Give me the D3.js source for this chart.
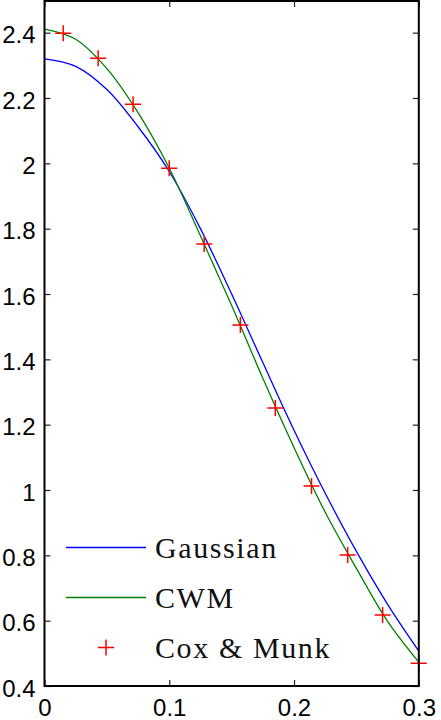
<!DOCTYPE html>
<html>
<head>
<meta charset="utf-8">
<script src="https://cdn.jsdelivr.net/npm/d3@7"></script>
<style>
  body { margin: 0; background: #fff; }
  svg { display: block; }
</style>
</head>
<body>
<svg id="chart"></svg>
<script>
const svgWidth = 441;
const svgHeight = 720;

// slope values
const curveX = [0, 0.025, 0.05, 0.075, 0.1, 0.125, 0.15, 0.175, 0.2, 0.225, 0.25, 0.275, 0.3];
const gaussian = [2.32, 2.297, 2.226, 2.112, 1.975, 1.80, 1.60, 1.39, 1.183, 0.99, 0.812, 0.65, 0.507];
const cwm = [2.411, 2.38, 2.29, 2.155, 1.985, 1.778, 1.565, 1.342, 1.13, 0.932, 0.76, 0.598, 0.473];

const coxMunkX = [0.015, 0.043, 0.071, 0.1, 0.128, 0.157, 0.185, 0.214, 0.243, 0.271, 0.3];
const coxMunkY = [2.398, 2.322, 2.181, 1.985, 1.753, 1.505, 1.251, 1.012, 0.801, 0.617, 0.47];

const xTicks = [0, 0.1, 0.2, 0.3];
const yTicks = [0.4, 0.6, 0.8, 1, 1.2, 1.4, 1.6, 1.8, 2, 2.2, 2.4];

const legendItems = [
  { name: 'Gaussian', color: '#0000ff', type: 'line' },
  { name: 'CWM', color: '#008000', type: 'line' },
  { name: 'Cox & Munk', color: '#ff0000', type: 'plus' },
];

const svg = d3.select('#chart')
  .attr('width', svgWidth)
  .attr('height', svgHeight);

svg.append('rect')
  .attr('width', svgWidth)
  .attr('height', svgHeight)
  .attr('fill', '#fff');

const plotLeft = 44.5;
const plotRight = 418.8;
const plotTop = 1;
const plotBottom = 686;

const x = d3.scaleLinear().domain([0, 0.3]).range([plotLeft, plotRight]);
const y = d3.scaleLinear().domain([0.4, 2.5]).range([plotBottom, 0]);

const fmt = d => String(+d.toFixed(1));
const tickFont = '"Liberation Sans", Arial, sans-serif';

// axes, ticks point inwards
const yAxis = svg.append('g')
  .attr('transform', `translate(${plotLeft},0)`)
  .call(d3.axisLeft(y).tickValues(yTicks).tickFormat(fmt)
    .tickSizeInner(-6).tickSizeOuter(0).tickPadding(9));

const yAxisRight = svg.append('g')
  .attr('transform', `translate(${plotRight},0)`)
  .call(d3.axisRight(y).tickValues(yTicks).tickFormat('')
    .tickSizeInner(-6).tickSizeOuter(0));

const xAxis = svg.append('g')
  .attr('transform', `translate(0,${plotBottom})`)
  .call(d3.axisBottom(x).tickValues(xTicks).tickFormat(fmt)
    .tickSizeInner(-6).tickSizeOuter(0).tickPadding(14));

const xAxisTop = svg.append('g')
  .attr('transform', `translate(0,${plotTop})`)
  .call(d3.axisTop(x).tickValues(xTicks).tickFormat('')
    .tickSizeInner(-6).tickSizeOuter(0));

[yAxis, yAxisRight, xAxis, xAxisTop].forEach(a => {
  a.select('.domain').remove();
  a.selectAll('line').attr('stroke', '#222').attr('stroke-width', 1.2);
  a.selectAll('text')
    .attr('font-family', tickFont)
    .attr('font-size', 24)
    .attr('fill', '#000');
});
yAxis.selectAll('text').attr('dy', '0.42em');
xAxis.selectAll('text').attr('dy', '0.68em');

// curves
svg.append('clipPath').attr('id', 'plot')
  .append('rect')
  .attr('x', plotLeft)
  .attr('y', plotTop)
  .attr('width', plotRight - plotLeft)
  .attr('height', plotBottom - plotTop);

const line = d3.line()
  .x(d => x(d[0]))
  .y(d => y(d[1]))
  .curve(d3.curveCatmullRom);

const plot = svg.append('g').attr('clip-path', 'url(#plot)');

plot.append('path')
  .datum(curveX.map((v, i) => [v, gaussian[i]]))
  .attr('d', line)
  .attr('fill', 'none')
  .attr('stroke', legendItems[0].color)
  .attr('stroke-width', 1.3);

plot.append('path')
  .datum(curveX.map((v, i) => [v, cwm[i]]))
  .attr('d', line)
  .attr('fill', 'none')
  .attr('stroke', legendItems[1].color)
  .attr('stroke-width', 1.3);

const plus = (g, cx, cy) => {
  g.append('path')
    .attr('d', `M${cx - 8},${cy}H${cx + 8}M${cx},${cy - 8}V${cy + 8}`)
    .attr('stroke', legendItems[2].color)
    .attr('stroke-width', 1.5)
    .attr('fill', 'none');
};

const markers = svg.append('g');
coxMunkX.forEach((v, i) => plus(markers, x(v), y(coxMunkY[i])));

// frame
svg.append('rect')
  .attr('x', plotLeft)
  .attr('y', plotTop)
  .attr('width', plotRight - plotLeft)
  .attr('height', plotBottom - plotTop)
  .attr('fill', 'none')
  .attr('stroke', '#000')
  .attr('stroke-width', 2);

// legend (no box)
const legend = svg.append('g')
  .selectAll('g')
  .data(legendItems)
  .enter()
  .append('g')
  .attr('transform', (d, i) => `translate(0,${547.5 + 50 * i})`);

legend.filter(d => d.type === 'line')
  .append('line')
  .attr('x1', 66)
  .attr('x2', 146)
  .attr('stroke', d => d.color)
  .attr('stroke-width', 1.3);

legend.filter(d => d.type === 'plus')
  .each(function () { plus(d3.select(this), 106, 0); });

legend.append('text')
  .attr('x', 155)
  .attr('y', 10)
  .attr('font-family', '"Liberation Serif", "Times New Roman", serif')
  .attr('font-size', 30)
  .attr('letter-spacing', 1.6)
  .attr('fill', '#111')
  .text(d => d.name);
</script>
</body>
</html>
